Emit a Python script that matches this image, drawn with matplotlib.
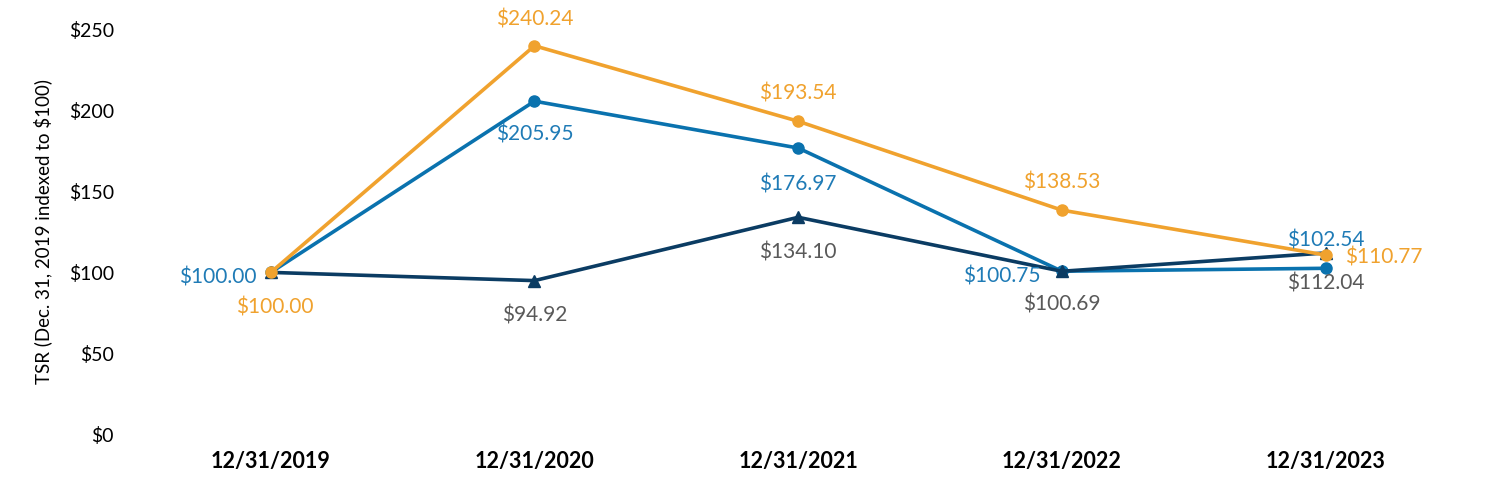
import matplotlib
matplotlib.use("Agg")
import matplotlib.pyplot as plt

plt.rcParams['font.family'] = ['Lato', 'DejaVu Sans']

dates = ["12/31/2019", "12/31/2020", "12/31/2021", "12/31/2022", "12/31/2023"]
orange_vals = [100.00, 240.24, 193.54, 138.53, 110.77]
blue_vals = [100.00, 205.95, 176.97, 100.75, 102.54]
dark_vals = [100.00, 94.92, 134.10, 100.69, 112.04]
y_ticks = [0, 50, 100, 150, 200, 250]

orange = "#F0A22E"
blue = "#0A72AE"
dark = "#0B3C63"
gray = "#595959"

fig = plt.figure(figsize=(14.88, 5), dpi=100)
ax = fig.add_axes([0.0934, 0.132, 0.886, 0.808])

x = list(range(len(dates)))
ax.plot(x, blue_vals, color=blue, lw=2.6, marker='o', ms=8, zorder=3, clip_on=False)
ax.plot(x, dark_vals, color=dark, lw=2.6, marker='^', ms=8, zorder=4, clip_on=False)
ax.plot(x, orange_vals, color=orange, lw=2.6, marker='o', ms=8, zorder=5, clip_on=False)

# label offsets in points (dx, dy, ha)
orange_off = [(3, -25, 'center'), (0, 19, 'center'), (0, 20, 'center'), (0, 20, 'center'), (14, -2, 'left')]
blue_off = [(-10, -4, 'right'), (0, -24, 'center'), (0, -26, 'center'), (-15, -4, 'right'), (0, 20, 'center')]
dark_off = [None, (0, -25, 'center'), (0, -25, 'center'), (0, -24, 'center'), (0, -22, 'center')]

def put_labels(vals, offs, col):
    for i, v in enumerate(vals):
        if offs[i] is None:
            continue
        dx, dy, ha = offs[i]
        ax.annotate(f"${v:,.2f}", (i, v), xytext=(dx, dy), textcoords='offset points',
                    ha=ha, va='center', color=col, fontsize=15, zorder=6,
                    annotation_clip=False)

put_labels(orange_vals, orange_off, orange)
put_labels(blue_vals, blue_off, "#1F7BB6")
put_labels(dark_vals, dark_off, gray)

ax.set_xlim(-0.5, 4.5)
ax.set_ylim(0, 250)
ax.set_yticks(y_ticks)
ax.set_yticklabels([f"${t}" for t in y_ticks], fontsize=14)
ax.set_xticks(x)
ax.set_xticklabels(dates, fontsize=15.5, fontweight='bold')
ax.tick_params(axis='y', length=0, pad=18)
ax.tick_params(axis='x', length=0, pad=12)
for s in ax.spines.values():
    s.set_visible(False)
ax.set_ylabel("TSR (Dec. 31, 2019 indexed to $100)", fontsize=13.5, labelpad=12)

fig.savefig("out.png", dpi=100)
